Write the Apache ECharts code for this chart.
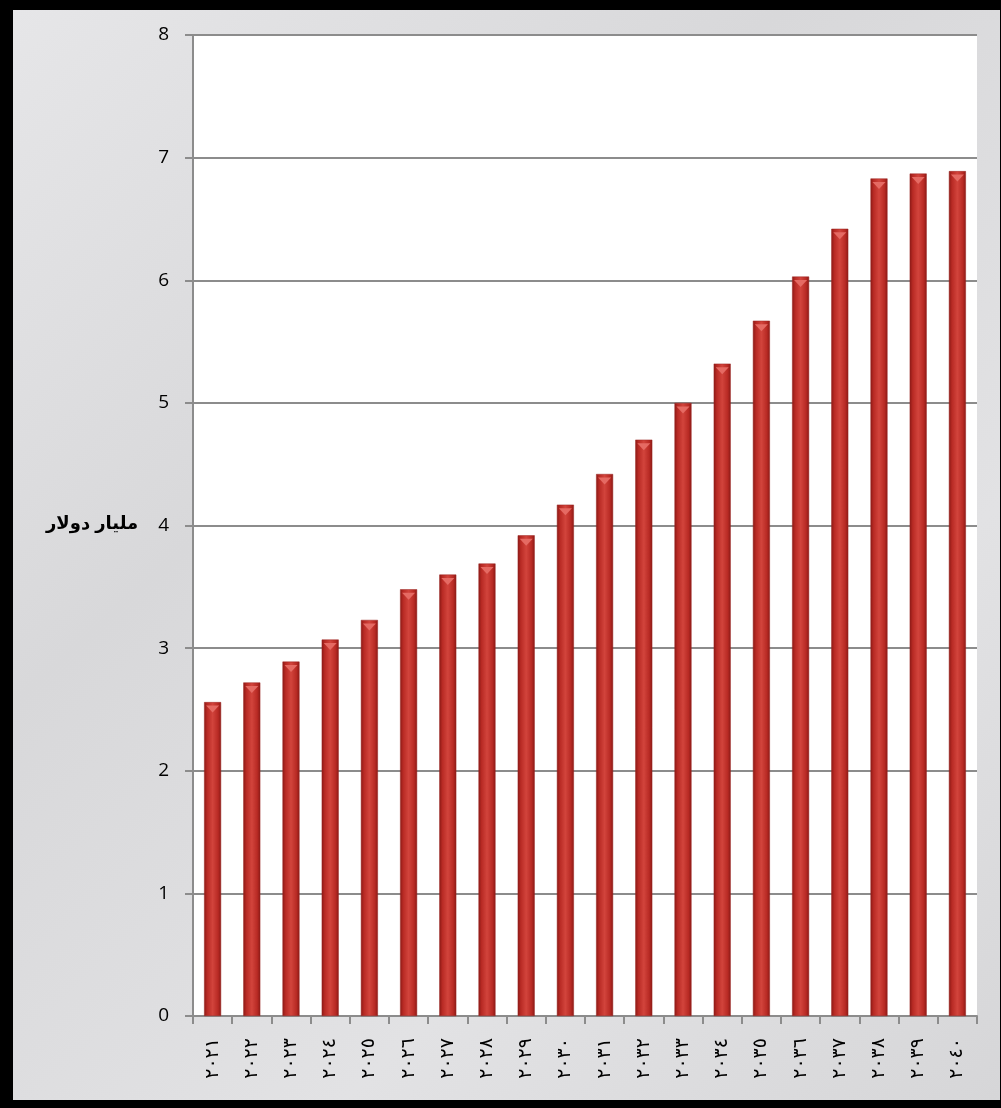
<!DOCTYPE html>
<html>
<head>
<meta charset="utf-8">
<script src="https://cdn.jsdelivr.net/npm/echarts@6/dist/echarts.min.js"></script>
<style>
  html, body {margin: 0; padding: 0; background: #000;}
  #frame {position: relative; width: 1001px; height: 1108px; background: #000;}
  #chart {position: absolute; left: 13px; top: 10px; width: 987px; height: 1090px;}
</style>
</head>
<body>
<div id="frame"><div id="chart"></div></div>
<script>
// years 2021..2040, written with Arabic-Indic digits as in the original
const years = [
  "٢٠٢١", "٢٠٢٢", "٢٠٢٣", "٢٠٢٤", "٢٠٢٥", "٢٠٢٦", "٢٠٢٧", "٢٠٢٨", "٢٠٢٩", "٢٠٣٠",
  "٢٠٣١", "٢٠٣٢", "٢٠٣٣", "٢٠٣٤", "٢٠٣٥", "٢٠٣٦", "٢٠٣٧", "٢٠٣٨", "٢٠٣٩", "٢٠٤٠"
];
// billion dollars
const values = [
  2.56, 2.72, 2.89, 3.07, 3.23, 3.48, 3.60, 3.69, 3.92, 4.17,
  4.42, 4.70, 5.00, 5.32, 5.67, 6.03, 6.42, 6.83, 6.87, 6.89
];
const yMin = 0;
const yMax = 8;
const yStep = 1;
const axisTitle = "مليار دولار";

const GRID_GRAY = "#8c8c8c";

const chart = echarts.init(document.getElementById("chart"));

chart.setOption({
  animation: false,
  backgroundColor: {
    type: "linear", x: 0, y: 0, x2: 1, y2: 1,
    colorStops: [
      {offset: 0, color: "#e6e6e8"},
      {offset: 0.35, color: "#d8d8da"},
      {offset: 0.7, color: "#e2e2e4"},
      {offset: 1, color: "#d6d6d8"},
    ],
  },
  grid: {
    left: 180, right: 23, top: 25, bottom: 84,
    show: true, backgroundColor: "#ffffff", borderWidth: 0,
  },
  xAxis: {
    type: "category",
    data: years,
    axisLine: {show: true, lineStyle: {color: GRID_GRAY, width: 2}},
    axisTick: {show: true, alignWithLabel: false, length: 8, lineStyle: {color: GRID_GRAY, width: 2}},
    axisLabel: {
      rotate: 90,
      margin: 22,
      color: "#000",
      fontFamily: "DejaVu Sans",
      fontSize: 19,
      interval: 0,
    },
  },
  yAxis: {
    type: "value",
    min: yMin,
    max: yMax,
    interval: yStep,
    axisLine: {show: true, lineStyle: {color: GRID_GRAY, width: 2}},
    axisTick: {show: true, length: 8, lineStyle: {color: GRID_GRAY, width: 2}},
    splitLine: {show: true, lineStyle: {color: GRID_GRAY, width: 2}},
    axisLabel: {
      margin: 24,
      color: "#000",
      fontFamily: "Open Sans",
      fontSize: 19,
    },
  },
  graphic: [{
    type: "text",
    left: 33,
    top: 505,
    style: {
      text: axisTitle,
      fill: "#000",
      font: "bold 18px 'Liberation Sans', 'DejaVu Sans', sans-serif",
    },
  }],
  series: [
    {
      type: "bar",
      data: values,
      barWidth: 17,
      itemStyle: {
        color: {
          type: "linear", x: 0, y: 0, x2: 1, y2: 0,
          colorStops: [
            {offset: 0, color: "#8a1915"},
            {offset: 0.18, color: "#b82a24"},
            {offset: 0.5, color: "#d2443c"},
            {offset: 0.82, color: "#b82a24"},
            {offset: 1, color: "#8a1915"},
          ],
        },
        borderColor: "#9a2420",
        borderWidth: 0.5,
      },
      z: 2,
    },
    {
      type: "pictorialBar",
      data: values,
      symbol: "triangle",
      symbolRotate: 180,
      symbolSize: [13, 7],
      symbolPosition: "end",
      symbolOffset: [0, "50%"],
      itemStyle: {color: "#e56a63"},
      barGap: "-100%",
      z: 3,
    },
  ],
});
</script>
</body>
</html>
